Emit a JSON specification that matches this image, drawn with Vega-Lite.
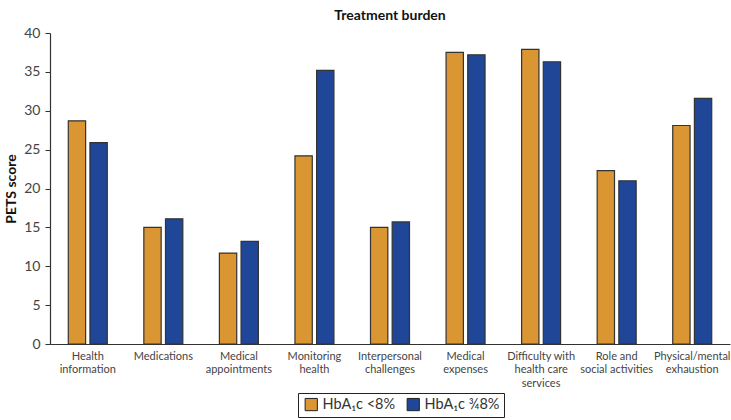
{
  "$schema": "https://vega.github.io/schema/vega-lite/v6.json",
  "width": 680,
  "height": 311,
  "autosize": "none",
  "padding": {"left": 50, "top": 33, "right": 1, "bottom": 76},
  "background": "white",
  "title": {"text": "Treatment burden", "fontSize": 14, "fontWeight": "bold", "font": "Lato", "color": "#111", "offset": 3, "anchor": "middle"},
  "data": {"values": [
    {"cat": "Health|information", "group": "HbA₁c <8%", "score": 28.7},
    {"cat": "Health|information", "group": "HbA₁c ¾8%", "score": 25.9},
    {"cat": "Medications", "group": "HbA₁c <8%", "score": 15.0},
    {"cat": "Medications", "group": "HbA₁c ¾8%", "score": 16.1},
    {"cat": "Medical|appointments", "group": "HbA₁c <8%", "score": 11.7},
    {"cat": "Medical|appointments", "group": "HbA₁c ¾8%", "score": 13.2},
    {"cat": "Monitoring|health", "group": "HbA₁c <8%", "score": 24.2},
    {"cat": "Monitoring|health", "group": "HbA₁c ¾8%", "score": 35.2},
    {"cat": "Interpersonal|challenges", "group": "HbA₁c <8%", "score": 15.0},
    {"cat": "Interpersonal|challenges", "group": "HbA₁c ¾8%", "score": 15.7},
    {"cat": "Medical|expenses", "group": "HbA₁c <8%", "score": 37.5},
    {"cat": "Medical|expenses", "group": "HbA₁c ¾8%", "score": 37.2},
    {"cat": "Difficulty with|health care|services", "group": "HbA₁c <8%", "score": 37.9},
    {"cat": "Difficulty with|health care|services", "group": "HbA₁c ¾8%", "score": 36.3},
    {"cat": "Role and|social activities", "group": "HbA₁c <8%", "score": 22.3},
    {"cat": "Role and|social activities", "group": "HbA₁c ¾8%", "score": 21.0},
    {"cat": "Physical/mental|exhaustion", "group": "HbA₁c <8%", "score": 28.1},
    {"cat": "Physical/mental|exhaustion", "group": "HbA₁c ¾8%", "score": 31.6}
  ]},
  "mark": {"type": "bar", "stroke": "#333333", "strokeWidth": 1.2},
  "encoding": {
    "x": {
      "field": "cat", "type": "nominal", "sort": null,
      "scale": {"paddingInner": 0.484, "paddingOuter": 0.242},
      "axis": {
        "title": null, "labelAngle": 0, "ticks": false, "labelPadding": 6,
        "labelExpr": "split(datum.label, '|')", "labelBaseline": "top",
        "labelFont": "Lato", "labelFontSize": 11, "labelColor": "#444",
        "labelLineHeight": 13.5, "domainColor": "#333", "domainWidth": 1.2, "labelLimit": 0, "labelOverlap": false
      }
    },
    "xOffset": {"field": "group", "type": "nominal", "sort": null, "scale": {"paddingInner": 0.2, "paddingOuter": 0}},
    "y": {
      "field": "score", "type": "quantitative",
      "scale": {"domain": [0, 40], "nice": false},
      "axis": {
        "title": "PETS score", "titleFont": "Lato", "titleFontSize": 14, "titleFontWeight": "bold", "titleColor": "#111",
        "titlePadding": 5, "grid": false, "values": [0,5,10,15,20,25,30,35,40], "labelOverlap": false,
        "labelFont": "Lato", "labelFontSize": 14, "labelColor": "#444", "labelPadding": 5,
        "tickSize": 5, "tickColor": "#333", "domainColor": "#333", "domainWidth": 1.2
      }
    },
    "fill": {
      "field": "group", "type": "nominal", "sort": null,
      "scale": {"range": ["#D99633", "#1F4697"]},
      "legend": {
        "title": null, "orient": "none", "direction": "horizontal",
        "legendX": 248, "legendY": 360,
        "symbolType": "square", "symbolSize": 150, "symbolStrokeColor": "#222", "symbolStrokeWidth": 1,
        "labelFont": "Lato", "labelFontSize": 14.5, "labelColor": "#333", "labelOffset": 4,
        "strokeColor": "#222", "padding": 4, "columnPadding": 8, "symbolOffset": 2
      }
    }
  },
  "config": {"view": {"stroke": null}}
}
